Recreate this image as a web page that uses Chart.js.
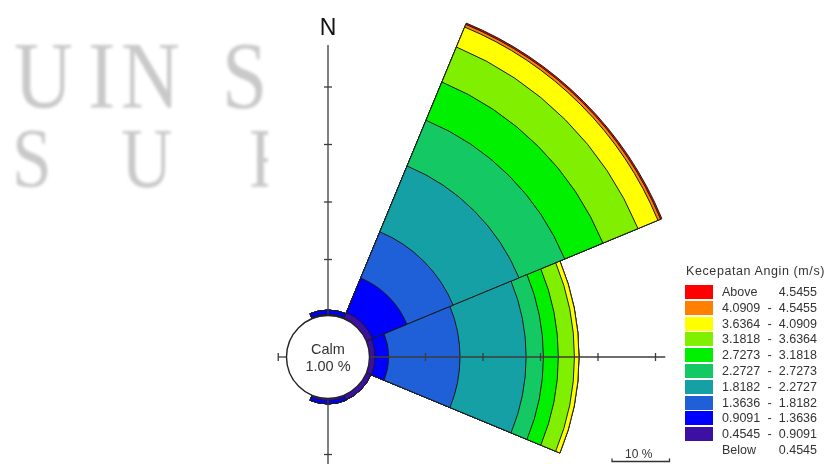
<!DOCTYPE html>
<html>
<head>
<meta charset="utf-8">
<script src="https://cdn.jsdelivr.net/npm/chart.js@4.4.0/dist/chart.umd.min.js"></script>
<style>
  html, body { margin: 0; padding: 0; background: #fff; }
  body { width: 827px; height: 464px; overflow: hidden; position: relative;
         font-family: "Liberation Sans", Arial, sans-serif; }
  #mark { position: absolute; left: 0; top: 0; width: 268px; height: 210px; overflow: hidden;
          color: #c9c9c9; filter: blur(1.4px);
          font-family: "Liberation Serif", "DejaVu Serif", serif; }
  #mark span { position: absolute; line-height: 1; transform: scaleX(0.85); transform-origin: left top; }
  #mark .r1 { font-size: 96px; top: 28px; }
  #mark .r2 { font-size: 84px; top: 117px; }
  #wrap { position: absolute; left: -72px; top: -43px; width: 800px; height: 800px; }
  #legend { position: absolute; left: 683px; top: 264px; width: 140px; color: #333; font-size: 12.5px; }
  #legend .title { position: absolute; left: 3px; top: 0; white-space: nowrap; font-size: 12.5px; letter-spacing: 0.6px; }
  #legend .row { position: absolute; left: 0; height: 14px; width: 134px; }
  #legend .box { position: absolute; left: 2px; top: 0; width: 28px; height: 14px; }
  #legend .lab { position: absolute; left: 39px; right: 0; top: 0; line-height: 14px;
                 display: flex; justify-content: space-between; white-space: nowrap; }
</style>
</head>
<body>
<div id="mark">
  <span class="r1" style="left:14px">U</span>
  <span class="r1" style="left:88px">I</span>
  <span class="r1" style="left:121px">N</span>
  <span class="r1" style="left:222px">S</span>
  <span class="r2" style="left:12px">S</span>
  <span class="r2" style="left:121px">U</span>
  <span class="r2" style="left:249px">R</span>
</div>
<div id="wrap"><canvas id="rose" width="800" height="800"></canvas></div>
<div id="legend"></div>

<script>
// Wind directions, clockwise from north
const directions = ['N', 'NE', 'E', 'SE', 'S', 'SW', 'W', 'NW'];

// Speed classes (m/s), lowest first
const speedClasses = [
  ['0.4545', '-', '0.9091'],
  ['0.9091', '-', '1.3636'],
  ['1.3636', '-', '1.8182'],
  ['1.8182', '-', '2.2727'],
  ['2.2727', '-', '2.7273'],
  ['2.7273', '-', '3.1818'],
  ['3.1818', '-', '3.6364'],
  ['3.6364', '-', '4.0909'],
  ['4.0909', '-', '4.5455'],
  ['Above', '4.5455']
];
const belowLabel = ['Below', '0.4545'];
const classColors = ['#3d10a4', '#0000ff', '#1f5fd8', '#14a0a4', '#14c864',
                     '#00f000', '#80f000', '#ffff00', '#ff8000', '#ff0000'];

// Frequency (%) per direction for each speed class
const freq_0454_0909 = [0.5, 1.4, 1.2, 1.1, 0.6, 0, 0, 0];
const freq_0909_1364 = [0.7, 6.5, 2.4, 0, 0.6, 0, 0, 0];
const freq_1364_1818 = [0, 8.7, 12.4, 0, 0, 0, 0, 0];
const freq_1818_2273 = [0, 12.4, 11.5, 0, 0, 0, 0, 0];
const freq_2273_2727 = [0, 8.6, 3.0, 0, 0, 0, 0, 0];
const freq_2727_3182 = [0, 7.2, 2.6, 0, 0, 0, 0, 0];
const freq_3182_3636 = [0, 6.6, 2.8, 0, 0, 0, 0, 0];
const freq_3636_4091 = [0, 3.75, 0.8, 0, 0, 0, 0, 0];
const freq_4091_4545 = [0, 0.5, 0, 0, 0, 0, 0, 0];
const freq_above4545 = [0, 0.25, 0, 0, 0, 0, 0, 0];

const calmPct = 1.00;

// Axis reach (%) and tick spacing (%)
const axisTickStep = 10;
const axisNorth = 47.3;
const axisEast = 51.7;
const axisSouth = 12.5;
const axisWest = 1.7;
const scaleBarPct = 10;

const classFreqs = [freq_0454_0909, freq_0909_1364, freq_1364_1818, freq_1818_2273,
                    freq_2273_2727, freq_2727_3182, freq_3182_3636, freq_3636_4091,
                    freq_4091_4545, freq_above4545];

// Stacked petals: each dataset reaches the cumulative frequency up to its class.
// Lower classes come first so they are painted on top.
const datasets = classFreqs.map((f, k) => ({
  label: speedClasses[k].join(' '),
  data: directions.map((d, i) => {
    let s = 0;
    for (let j = 0; j <= k; j++) s += classFreqs[j][i];
    return +s.toFixed(3);
  }),
  backgroundColor: classColors[k],
  borderColor: '#1b1b1b',
  borderWidth: 1
}));

// Page offset of the canvas (it is larger than the window so the rose centre sits low-left)
const OFFX = 72, OFFY = 43;

const roseDecor = {
  id: 'roseDecor',
  afterDatasetsDraw(chart) {
    const s = chart.scales.r;
    const ctx = chart.ctx;
    const cx = s.xCenter, cy = s.yCenter;
    const R = v => s.getDistanceFromCenterForValue(v);
    ctx.save();

    // cross-shaped axes with tick marks every axisTickStep %
    ctx.strokeStyle = '#3c3c3c';
    ctx.lineWidth = 1.3;
    const arms = [[0, -1, axisNorth], [1, 0, axisEast], [0, 1, axisSouth], [-1, 0, axisWest]];
    arms.forEach(([dx, dy, reach]) => {
      ctx.beginPath();
      ctx.moveTo(cx + dx * R(0), cy + dy * R(0));
      ctx.lineTo(cx + dx * R(reach), cy + dy * R(reach));
      ctx.stroke();
      const marks = [];
      for (let v = axisTickStep; v <= reach; v += axisTickStep) marks.push(v);
      if (reach < axisTickStep) marks.push(reach);
      marks.forEach(v => {
        const px = cx + dx * R(v), py = cy + dy * R(v);
        ctx.beginPath();
        ctx.moveTo(px - dy * 4, py - dx * 4);
        ctx.lineTo(px + dy * 4, py + dx * 4);
        ctx.stroke();
      });
    });

    // calm circle
    const rc = R(0) + 1.5;
    ctx.beginPath();
    ctx.arc(cx, cy, rc, 0, Math.PI * 2);
    ctx.fillStyle = '#ffffff';
    ctx.fill();
    ctx.lineWidth = 1.4;
    ctx.strokeStyle = '#222';
    ctx.stroke();
    ctx.fillStyle = '#333';
    ctx.font = '14.5px "Liberation Sans", Arial, sans-serif';
    ctx.textAlign = 'center';
    ctx.textBaseline = 'middle';
    ctx.fillText('Calm', cx, cy - 7);
    ctx.fillText(calmPct.toFixed(2) + ' %', cx, cy + 10);

    // north label
    ctx.fillStyle = '#111';
    ctx.font = '23px "Liberation Sans", Arial, sans-serif';
    ctx.fillText('N', cx, cy - R(axisNorth) - 16);

    // scale bar
    const barLen = R(scaleBarPct) - R(0);
    const bx = 612 + OFFX, by = 461.5 + OFFY;
    ctx.strokeStyle = '#333';
    ctx.lineWidth = 1.3;
    ctx.beginPath();
    ctx.moveTo(bx, by - 3); ctx.lineTo(bx, by);
    ctx.lineTo(bx + barLen, by); ctx.lineTo(bx + barLen, by - 3);
    ctx.stroke();
    ctx.fillStyle = '#333';
    ctx.font = '12px "Liberation Sans", Arial, sans-serif';
    ctx.textBaseline = 'alphabetic';
    ctx.fillText(scaleBarPct + ' %', bx + barLen / 2 - 2, by - 4);
    ctx.restore();
  }
};

// value -> radius: 0 % sits at 40 px, 10 % every 57.5 px
const pxPerPct = 5.75;
const zeroRadius = 40;
const drawing = 400;

new Chart(document.getElementById('rose'), {
  type: 'polarArea',
  data: { labels: directions, datasets },
  options: {
    responsive: false,
    animation: false,
    layout: { padding: 0 },
    plugins: { legend: { display: false }, tooltip: { enabled: false } },
    scales: {
      r: {
        display: false,
        startAngle: -22.5,
        min: -zeroRadius / pxPerPct,
        max: (drawing - zeroRadius) / pxPerPct,
        ticks: { display: false },
        grid: { display: false },
        angleLines: { display: false },
        pointLabels: { display: false }
      }
    }
  },
  plugins: [roseDecor]
});

// legend, highest class on top
const legend = document.getElementById('legend');
const title = document.createElement('div');
title.className = 'title';
title.textContent = 'Kecepatan Angin (m/s)';
legend.appendChild(title);
const rows = speedClasses.map((c, k) => ({ parts: c, color: classColors[k] })).reverse();
rows.push({ parts: belowLabel, color: null });
rows.forEach((r, i) => {
  const row = document.createElement('div');
  row.className = 'row';
  row.style.top = (21 + i * 15.8) + 'px';
  if (r.color) {
    const b = document.createElement('div');
    b.className = 'box';
    b.style.background = r.color;
    row.appendChild(b);
  }
  const lab = document.createElement('div');
  lab.className = 'lab';
  r.parts.forEach(p => {
    const sp = document.createElement('span');
    sp.textContent = p;
    lab.appendChild(sp);
  });
  row.appendChild(lab);
  legend.appendChild(row);
});
</script>
</body>
</html>
